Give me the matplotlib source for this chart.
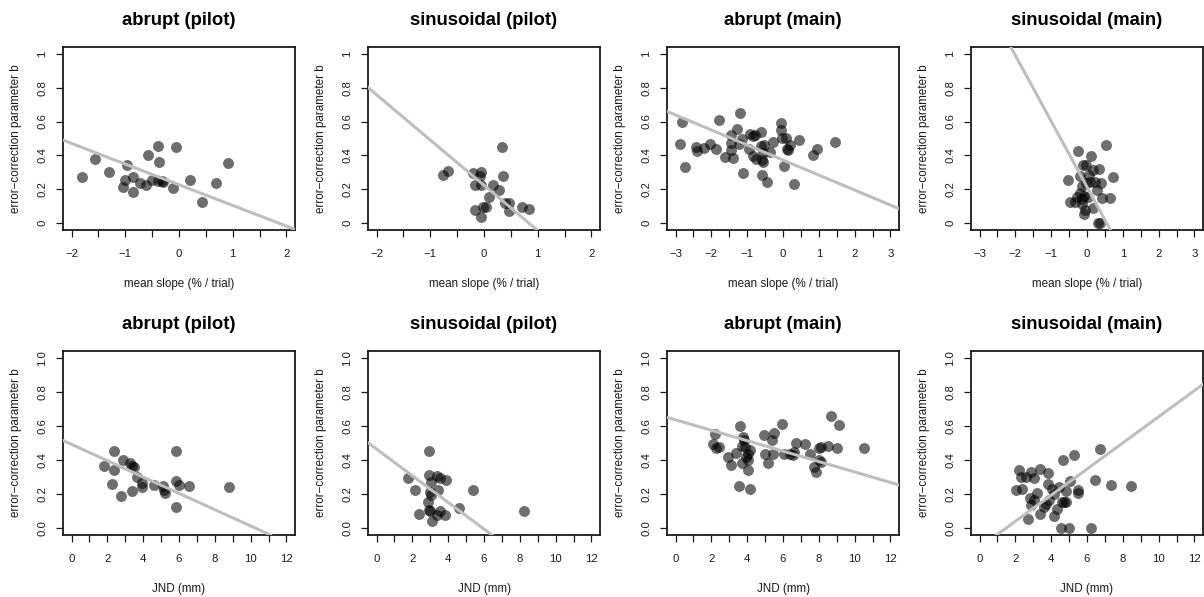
import numpy as np
import matplotlib.pyplot as plt

plt.rcParams['font.family'] = ['Liberation Sans', 'DejaVu Sans']

# Daten
titles = ["abrupt (pilot)", "sinusoidal (pilot)", "abrupt (main)", "sinusoidal (main)"]

# obere Reihe: mittlere Steigung vs. b
slope_ap = [-1.81, -1.57, -1.30, -0.96, -1.01, -1.04, -0.86, -0.86, -0.73, -0.61, -0.57, -0.51,
            -0.40, -0.37, -0.39, -0.32, -0.29, -0.06, -0.12, 0.20, 0.42, 0.68, 0.91]
b_ap_s = [0.271, 0.381, 0.300, 0.342, 0.256, 0.215, 0.273, 0.184, 0.240, 0.223, 0.400, 0.256,
          0.453, 0.361, 0.252, 0.248, 0.244, 0.447, 0.207, 0.258, 0.123, 0.236, 0.357]

slope_sp = [-0.77, -0.67, -0.21, -0.05, -0.07, -0.17, -0.05, 0.35, 0.33, 0.17, 0.27, 0.09,
            -0.16, -0.02, 0.03, -0.06, 0.39, 0.47, 0.46, 0.70, 0.84]
b_sp_s = [0.283, 0.307, 0.295, 0.301, 0.277, 0.227, 0.225, 0.277, 0.451, 0.227, 0.199, 0.154,
          0.078, 0.098, 0.098, 0.039, 0.117, 0.121, 0.070, 0.096, 0.084]

slope_am = [-2.81, -2.89, -2.74, -2.44, -2.39, -2.22, -2.03, -1.86, -1.78, -1.63, -1.46, -1.45,
            -1.44, -1.39, -1.28, -1.20, -1.15, -1.23, -1.12, -0.93, -0.95, -0.83, -0.85, -0.76,
            -0.78, -0.62, -0.62, -0.57, -0.58, -0.56, -0.52, -0.59, -0.46, -0.37, -0.29, -0.06,
            -0.05, -0.03, 0.08, 0.04, 0.11, 0.15, 0.19, 0.31, 0.45, 0.84, 0.96, 1.45]
b_am_s = [0.598, 0.465, 0.330, 0.449, 0.424, 0.443, 0.465, 0.436, 0.611, 0.389, 0.523, 0.473,
          0.430, 0.385, 0.557, 0.650, 0.496, 0.469, 0.297, 0.529, 0.438, 0.512, 0.395, 0.379,
          0.520, 0.541, 0.453, 0.414, 0.375, 0.359, 0.459, 0.287, 0.246, 0.420, 0.482, 0.594,
          0.551, 0.504, 0.504, 0.340, 0.439, 0.432, 0.459, 0.232, 0.490, 0.404, 0.436, 0.480]

slope_sm = [-0.26, 0.10, 0.53, -0.52, -0.12, -0.04, 0.18, 0.34, 0.74, -0.20, 0.06, -0.15,
            -0.03, 0.07, 0.22, 0.38, 0.27, -0.20, -0.07, -0.14, -0.29, -0.48, -0.34, 0.02,
            0.42, 0.63, -0.15, -0.06, -0.07, 0.18, 0.31, 0.35]
b_sm_s = [0.424, 0.395, 0.463, 0.258, 0.342, 0.346, 0.312, 0.320, 0.271, 0.277, 0.287, 0.219,
          0.238, 0.242, 0.242, 0.238, 0.199, 0.180, 0.160, 0.141, 0.156, 0.127, 0.127, 0.152,
          0.146, 0.150, 0.111, 0.078, 0.053, 0.088, 0.002, 0.000]

# untere Reihe: JND vs. b
jnd_ap = [1.79, 2.23, 2.37, 2.37, 2.75, 2.85, 3.27, 3.40, 3.50, 3.37, 3.63, 3.96, 3.96, 4.58,
          5.08, 5.15, 5.21, 5.82, 5.82, 6.01, 5.82, 6.57, 8.80]
b_ap_j = [0.363, 0.261, 0.453, 0.343, 0.186, 0.398, 0.380, 0.363, 0.357, 0.220, 0.300, 0.267,
          0.241, 0.251, 0.245, 0.225, 0.204, 0.451, 0.278, 0.255, 0.122, 0.249, 0.241]

jnd_sp = [1.75, 2.16, 2.38, 2.91, 2.91, 3.04, 3.00, 3.06, 2.85, 2.93, 3.00, 3.07, 3.37, 3.41,
          3.56, 3.87, 3.52, 3.37, 3.80, 4.60, 5.40, 8.25]
b_sp_j = [0.294, 0.225, 0.084, 0.455, 0.310, 0.270, 0.212, 0.192, 0.155, 0.108, 0.100, 0.045,
          0.304, 0.222, 0.294, 0.280, 0.100, 0.075, 0.080, 0.120, 0.227, 0.098]

jnd_am = [2.18, 2.11, 2.26, 2.44, 2.94, 3.11, 3.37, 3.60, 3.56, 3.69, 3.75, 3.71, 3.84, 3.88,
          3.93, 4.02, 4.06, 4.15, 4.06, 4.15, 4.96, 5.01, 5.14, 5.37, 5.52, 5.42, 5.94, 6.07,
          6.41, 6.54, 6.63, 6.73, 7.25, 7.53, 7.73, 7.84, 8.03, 8.12, 8.03, 8.12, 8.50, 8.70,
          9.02, 9.15, 10.55]
b_am_j = [0.555, 0.496, 0.473, 0.476, 0.420, 0.371, 0.439, 0.598, 0.249, 0.382, 0.535, 0.482,
          0.520, 0.476, 0.418, 0.339, 0.437, 0.461, 0.402, 0.231, 0.545, 0.433, 0.384, 0.516,
          0.559, 0.437, 0.612, 0.437, 0.437, 0.431, 0.447, 0.502, 0.496, 0.433, 0.359, 0.329,
          0.473, 0.476, 0.398, 0.390, 0.482, 0.657, 0.471, 0.604, 0.471]

jnd_sm = [2.22, 2.02, 2.37, 2.33, 2.59, 2.87, 3.02, 3.36, 3.82, 2.69, 2.80, 2.89, 3.02, 3.21,
          3.36, 3.58, 3.71, 3.82, 3.86, 4.05, 4.14, 4.14, 4.32, 4.46, 4.66, 4.61, 4.70, 4.85,
          4.85, 5.04, 5.26, 5.51, 5.51, 4.52, 4.98, 6.20, 6.44, 6.72, 7.32, 8.47]
b_sm_j = [0.339, 0.227, 0.231, 0.298, 0.300, 0.330, 0.294, 0.349, 0.323, 0.055, 0.176, 0.137,
          0.163, 0.206, 0.084, 0.124, 0.143, 0.261, 0.163, 0.231, 0.202, 0.069, 0.110, 0.241,
          0.398, 0.153, 0.153, 0.216, 0.153, 0.275, 0.431, 0.225, 0.206, 0.000, 0.000, 0.000,
          0.284, 0.463, 0.255, 0.247]

# Regressionsgeraden (Achsenabschnitt, Steigung)
fit_s_icpt = [0.227, 0.224, 0.373, 0.214]
fit_s_k = [-0.122, -0.267, -0.0886, -0.388]
fit_j_icpt = [0.492, 0.464, 0.636, -0.113]
fit_j_k = [-0.0479, -0.0782, -0.0306, 0.0767]

top_x = [slope_ap, slope_sp, slope_am, slope_sm]
top_y = [b_ap_s, b_sp_s, b_am_s, b_sm_s]
bot_x = [jnd_ap, jnd_sp, jnd_am, jnd_sm]
bot_y = [b_ap_j, b_sp_j, b_am_j, b_sm_j]


# FIGURE
fig = plt.figure(figsize=(12.04, 5.97), dpi=100)

lefts = [63, 368, 667, 971]
W, H = 1204.0, 597.0
aw, ah = 232, 183


def style(ax, xlim, xmaj, xmin, yfmt):
    ax.set_xlim(xlim)
    ax.set_ylim(-0.04, 1.04)
    ax.set_xticks(xmaj)
    ax.set_xticks(xmin, minor=True)
    yt = np.arange(0, 1.01, 0.2)
    ax.set_yticks(yt)
    ax.set_yticklabels([yfmt(v) for v in yt])
    ax.tick_params("both", which="both", direction="out", length=5, width=0.9,
                   labelsize=8.2, color="#1a1a1a", labelcolor="#1a1a1a")
    ax.tick_params("x", which="major", pad=8.5)
    ax.tick_params("y", which="major", pad=6.5)
    plt.setp(ax.get_yticklabels(), rotation=90, va="center")
    for sp in ax.spines.values():
        sp.set_linewidth(1.3)
        sp.set_color("#1a1a1a")
    ax.set_ylabel("error\u2212correction parameter b", fontsize=8.4, color="#1a1a1a")
    ax.yaxis.set_label_coords(-0.175, 0.5)


for i in range(4):
    # obere Reihe
    ax = fig.add_axes([lefts[i] / W, (H - 230) / H, aw / W, ah / H])
    if i < 2:
        style(ax, (-2.16, 2.16), np.arange(-2, 2.1, 1), np.arange(-1.5, 2, 1),
              lambda v: "%g" % round(v, 1))
    else:
        style(ax, (-3.24, 3.24), np.arange(-3, 3.1, 1), np.arange(-2.5, 3, 1),
              lambda v: "%g" % round(v, 1))
    ax.scatter(top_x[i], top_y[i], s=62, c="k", alpha=0.57, linewidths=0, zorder=2)
    ax.axline((0, fit_s_icpt[i]), slope=fit_s_k[i], color="#bebebe", lw=2.2, zorder=3)
    ax.set_title(titles[i], fontsize=13.3, fontweight="bold", pad=16)
    ax.set_xlabel("mean slope (% / trial)", fontsize=8.4, color="#1a1a1a")
    ax.xaxis.set_label_coords(0.5, -0.262)

    # untere Reihe
    ax = fig.add_axes([lefts[i] / W, (H - 535) / H, aw / W, 184 / H])
    style(ax, (-0.48, 12.48), np.arange(0, 12.1, 2), np.arange(1, 12, 2),
          lambda v: "%.1f" % v)
    ax.scatter(bot_x[i], bot_y[i], s=62, c="k", alpha=0.57, linewidths=0, zorder=2)
    ax.axline((0, fit_j_icpt[i]), slope=fit_j_k[i], color="#bebebe", lw=2.2, zorder=3)
    ax.set_title(titles[i], fontsize=13.3, fontweight="bold", pad=16)
    ax.set_xlabel("JND (mm)", fontsize=8.4, color="#1a1a1a")
    ax.xaxis.set_label_coords(0.5, -0.262)

fig.savefig("out.png", dpi=100)
